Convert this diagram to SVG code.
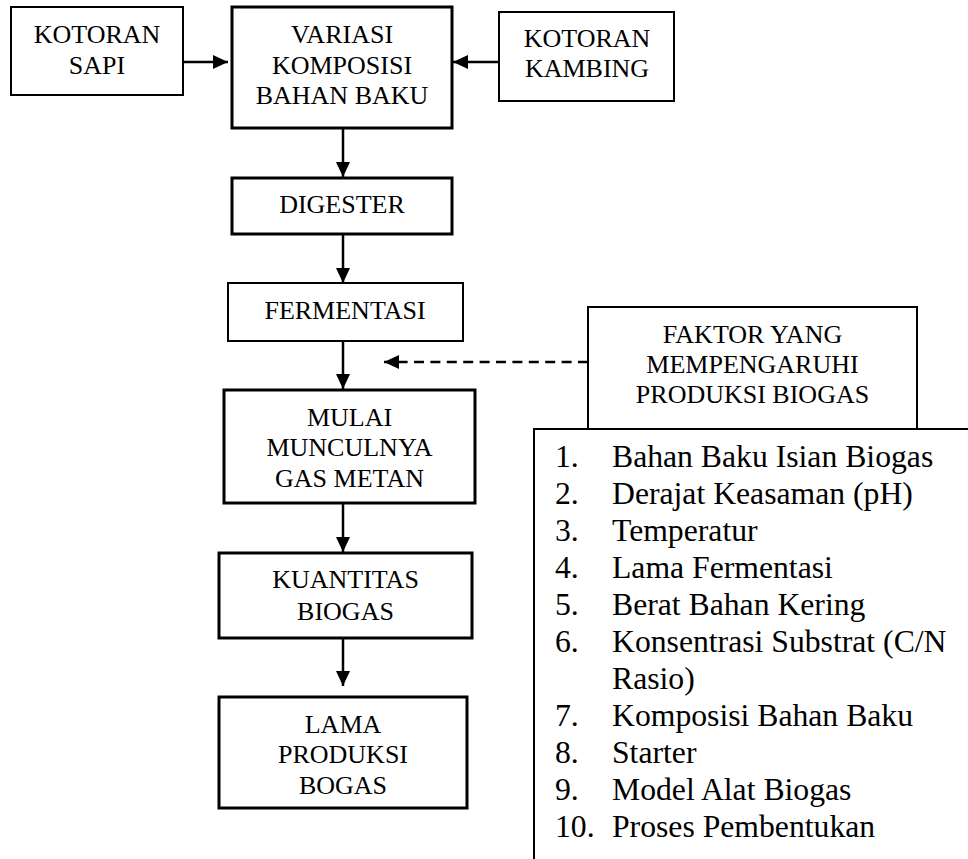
<svg xmlns="http://www.w3.org/2000/svg" width="968" height="859" viewBox="0 0 968 859">
<defs>
<style>
.box{fill:#fff;stroke:#000;stroke-width:2}
.thick{stroke-width:3}
.t{font-family:"Liberation Serif","Times New Roman",serif;font-size:26px;fill:#000;text-anchor:middle}
.l{font-family:"Liberation Serif","Times New Roman",serif;font-size:31.7px;fill:#000}
.c{stroke:#000;stroke-width:2.5;fill:none}
.d{stroke-dasharray:10 6.4}
</style>
<marker id="ah" markerWidth="15" markerHeight="14" refX="15" refY="7" orient="auto" markerUnits="userSpaceOnUse">
<path d="M0,0 L15,7 L0,14 Z" fill="#000"/>
</marker>
</defs>
<rect width="968" height="859" fill="#fff"/>
<g id="connectors">
<line class="c" x1="183" y1="62" x2="228" y2="62" marker-end="url(#ah)"/>
<line class="c" x1="499" y1="62" x2="453" y2="62" marker-end="url(#ah)"/>
<line class="c" x1="343" y1="128" x2="343" y2="177" marker-end="url(#ah)"/>
<line class="c" x1="343" y1="234" x2="343" y2="283" marker-end="url(#ah)"/>
<line class="c" x1="343" y1="341" x2="343" y2="389" marker-end="url(#ah)"/>
<line class="c" x1="343" y1="503" x2="343" y2="552" marker-end="url(#ah)"/>
<line class="c" x1="343" y1="638" x2="343" y2="686" marker-end="url(#ah)"/>
<line class="c d" x1="588" y1="362" x2="384" y2="362" marker-end="url(#ah)"/>
</g>
<g id="kotoran-sapi">
<rect class="box" x="11" y="7" width="172" height="88"/>
<text class="t" x="97" y="43">KOTORAN</text>
<text class="t" x="97" y="74">SAPI</text>
</g>
<g id="variasi">
<rect class="box thick" x="232" y="7" width="220" height="121"/>
<text class="t" x="342" y="43">VARIASI</text>
<text class="t" x="342" y="74">KOMPOSISI</text>
<text class="t" x="342" y="104">BAHAN BAKU</text>
</g>
<g id="kotoran-kambing">
<rect class="box" x="499" y="12" width="175" height="89"/>
<text class="t" x="587" y="47">KOTORAN</text>
<text class="t" x="587" y="77">KAMBING</text>
</g>
<g id="digester">
<rect class="box thick" x="232" y="178" width="220" height="56"/>
<text class="t" x="342" y="213">DIGESTER</text>
</g>
<g id="fermentasi">
<rect class="box" x="228" y="283" width="235" height="58"/>
<text class="t" x="345" y="319">FERMENTASI</text>
</g>
<g id="mulai">
<rect class="box thick" x="224" y="390" width="251" height="113"/>
<text class="t" x="349.5" y="426">MULAI</text>
<text class="t" x="349.5" y="456">MUNCULNYA</text>
<text class="t" x="349.5" y="487">GAS METAN</text>
</g>
<g id="kuantitas">
<rect class="box thick" x="219" y="553" width="253" height="85"/>
<text class="t" x="345.5" y="588">KUANTITAS</text>
<text class="t" x="345.5" y="620">BIOGAS</text>
</g>
<g id="lama">
<rect class="box thick" x="219" y="697" width="248" height="111"/>
<text class="t" x="343" y="733">LAMA</text>
<text class="t" x="343" y="763">PRODUKSI</text>
<text class="t" x="343" y="794">BOGAS</text>
</g>
<g id="faktor">
<rect class="box" x="588" y="307" width="329" height="122"/>
<text class="t" x="752.5" y="343">FAKTOR YANG</text>
<text class="t" x="752.5" y="373">MEMPENGARUHI</text>
<text class="t" x="752.5" y="403">PRODUKSI BIOGAS</text>
</g>
<g id="daftar-faktor">
<rect class="box" x="534" y="429" width="450" height="450"/>
<text class="l" x="555" y="467">1.</text><text class="l" x="612" y="467">Bahan Baku Isian Biogas</text>
<text class="l" x="555" y="504">2.</text><text class="l" x="612" y="504">Derajat Keasaman (pH)</text>
<text class="l" x="555" y="541">3.</text><text class="l" x="612" y="541">Temperatur</text>
<text class="l" x="555" y="578">4.</text><text class="l" x="612" y="578">Lama Fermentasi</text>
<text class="l" x="555" y="615">5.</text><text class="l" x="612" y="615">Berat Bahan Kering</text>
<text class="l" x="555" y="652">6.</text><text class="l" x="612" y="652">Konsentrasi Substrat (C/N</text>
<text class="l" x="612" y="689">Rasio)</text>
<text class="l" x="555" y="726">7.</text><text class="l" x="612" y="726">Komposisi Bahan Baku</text>
<text class="l" x="555" y="763">8.</text><text class="l" x="612" y="763">Starter</text>
<text class="l" x="555" y="800">9.</text><text class="l" x="612" y="800">Model Alat Biogas</text>
<text class="l" x="555" y="837">10.</text><text class="l" x="612" y="837">Proses Pembentukan</text>
</g>
</svg>
